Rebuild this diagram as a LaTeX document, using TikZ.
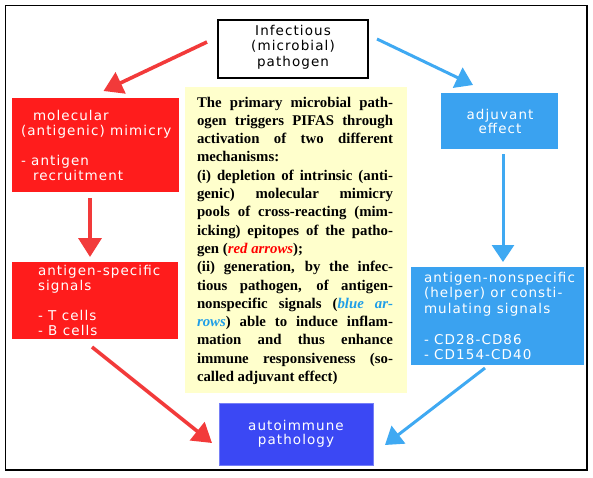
\documentclass[tikz,border=0pt]{standalone}
\usepackage{fontspec}
\setmainfont{Liberation Serif}
\newfontfamily\boxfont{DejaVu Sans}[LetterSpace=8]
\usetikzlibrary{arrows.meta,calc}
\definecolor{boxred}{HTML}{FF1C1C}
\definecolor{arrred}{HTML}{F23A3A}
\definecolor{boxblue}{HTML}{3AA2F0}
\definecolor{arrblue}{HTML}{3FA9F2}
\definecolor{autoblue}{HTML}{3B48F4}
\definecolor{paleyellow}{HTML}{FFFFCC}
\definecolor{blueital}{HTML}{1E9EE8}
\newcommand\jline[1]{\makebox[\linewidth][s]{#1}}
\tikzset{
  plainbox/.style={rectangle, inner sep=0pt, outer sep=0pt},
  txt/.style={inner sep=0pt, outer sep=0pt},
  redarr/.style={draw=arrred, line width=3.6pt, -{Triangle[length=19pt,width=23pt]}},
  bluearr/.style={draw=arrblue, line width=3pt, -{Triangle[length=17pt,width=22pt]}},
}
\begin{document}
\begin{tikzpicture}[x=1pt,y=-1pt]
\useasboundingbox (0,0) rectangle (593,477);
\draw[line width=1.2pt] (5.5,5.5) rectangle (587,470);

% boxes
\node[plainbox, draw=black, line width=1.6pt, fill=white, minimum width=150pt, minimum height=58pt] (top) at (293,49) {};
\node[plainbox, fill=boxred, minimum width=167pt, minimum height=94pt] (red1) at (95.5,145) {};
\node[plainbox, fill=boxblue, minimum width=117pt, minimum height=56pt] (blue1) at (499.5,121) {};
\node[plainbox, fill=paleyellow, minimum width=222pt, minimum height=306pt] (yellow) at (296,240) {};
\node[plainbox, fill=boxred, minimum width=166pt, minimum height=77pt] (red2) at (95,300.5) {};
\node[plainbox, fill=boxblue, minimum width=173pt, minimum height=98pt] (blue2) at (497.5,316) {};
\node[plainbox, fill=autoblue, draw=autoblue!70!white, line width=0.8pt, minimum width=154pt, minimum height=62pt] (auto) at (296,434) {};

% box texts
\node[txt, anchor=base] (toptxt) at (293,35) {\parbox[t]{150pt}{\centering\boxfont\fontsize{13.5}{15.5}\selectfont Infectious\\(microbial)\\pathogen}};
\node[txt, anchor=base west, text=white] (red1txt) at (21,120) {\parbox[t]{160pt}{\raggedright\boxfont\fontsize{13.5}{15}\selectfont \hspace*{12pt}molecular\\(antigenic) mimicry\\[15pt]- antigen\\\hspace*{12pt}recruitment}};
\node[txt, anchor=base, text=white] (blue1txt) at (500,119) {\parbox[t]{117pt}{\centering\boxfont\fontsize{13.5}{14.5}\selectfont adjuvant\\effect}};
\node[txt, anchor=base west, text=white] (red2txt) at (38,275.5) {\parbox[t]{140pt}{\raggedright\boxfont\fontsize{13.5}{15}\selectfont antigen-specific\\signals\\[15pt]- T cells\\- B cells}};
\node[txt, anchor=base west, text=white] (blue2txt) at (424,282.5) {\parbox[t]{165pt}{\raggedright\boxfont\fontsize{13.5}{15.4}\selectfont antigen-nonspecific\\(helper) or consti-\\mulating signals\\[15.4pt]- CD28-CD86\\- CD154-CD40}};
\node[txt, anchor=base, text=white] (autotxt) at (296,430) {\parbox[t]{154pt}{\centering\boxfont\fontsize{13.5}{14.5}\selectfont autoimmune\\pathology}};

% yellow text
\node[txt, anchor=base west] (ytxt) at (197,107) {\parbox[t]{196pt}{\fontsize{14.8}{18.3}\selectfont\bfseries
\jline{The primary microbial path-}\\
\jline{ogen triggers PIFAS through}\\
\jline{activation of two different}\\
mechanisms:\\
\jline{(i) depletion of intrinsic (anti-}\\
\jline{genic) molecular mimicry}\\
\jline{pools of cross-reacting (mim-}\\
\jline{icking) epitopes of the patho-}\\
gen (\textcolor{red}{\textit{red arrows}});\\
\jline{(ii) generation, by the infec-}\\
\jline{tious pathogen, of antigen-}\\
\jline{nonspecific signals (\textcolor{blueital}{\textit{blue}} \textcolor{blueital}{\textit{ar-}}}\\
\jline{\textcolor{blueital}{\textit{rows}}) able to induce inflam-}\\
\jline{mation and thus enhance}\\
\jline{immune responsiveness (so-}\\
called adjuvant effect)}};

% arrows
\draw[redarr] ($(top.west)+(-11,-7)$) -- ($(red1.north)+(8,-7)$);
\draw[bluearr] ($(top.east)+(9,-10)$) -- ($(blue1.north)+(-26.5,-8)$);
\draw[redarr] ($(red1.south)+(-5.5,6)$) -- ($(red2.north)+(-5,-5)$);
\draw[bluearr] ($(blue1.south)+(3.5,5)$) -- ($(blue2.north)+(5.5,-5)$);
\draw[redarr] ($(red2.south)+(-3,8)$) -- ($(auto.west)+(-7,9)$);
\draw[bluearr] ($(blue2.south)+(-12.5,3)$) -- ($(auto.east)+(12,11)$);
\end{tikzpicture}
\end{document}
